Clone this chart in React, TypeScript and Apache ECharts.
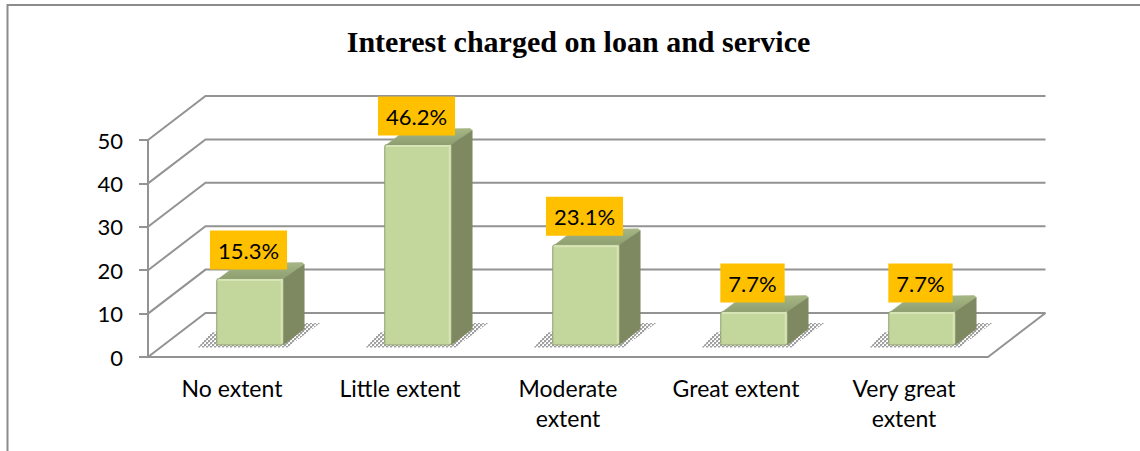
import React, { useEffect, useRef } from "react";
import * as echarts from "echarts";

const titleText = "Interest charged on loan and service";
const categories = ["No extent", "Little extent", "Moderate\nextent", "Great extent", "Very great\nextent"];
const values = [15.3, 46.2, 23.1, 7.7, 7.7];
const labels = ["15.3%", "46.2%", "23.1%", "7.7%", "7.7%"];
const ticks = [0, 10, 20, 30, 40, 50];

const FONT = "Lato, Carlito, 'Open Sans', sans-serif";
const WALL_DX = 57.5;
const WALL_DY = 44;
const GRID = "#939393";

function makeDither(): HTMLCanvasElement {
  const c = document.createElement("canvas");
  c.width = 4;
  c.height = 4;
  const ctx = c.getContext("2d")!;
  ctx.fillStyle = "#ffffff";
  ctx.fillRect(0, 0, 4, 4);
  ctx.fillStyle = "#a0a0a0";
  ctx.fillRect(0, 0, 2, 2);
  ctx.fillRect(2, 2, 2, 2);
  ctx.fillStyle = "#d8d8d8";
  ctx.fillRect(2, 0, 1, 1);
  ctx.fillRect(0, 2, 1, 1);
  return c;
}

function renderWall(params: any, api: any) {
  const v = api.value(1);
  const cs = params.coordSys;
  const y = api.coord([0, v])[1];
  const left = cs.x;
  const right = cs.x + cs.width;
  const children: any[] = [
    {
      type: "polyline",
      shape: { points: [[left, y], [left + WALL_DX, y - WALL_DY], [right + WALL_DX, y - WALL_DY]] },
      style: { stroke: GRID, lineWidth: 2, fill: "none" },
    },
  ];
  if (v === 0) {
    children.push({
      type: "line",
      shape: { x1: right, y1: y, x2: right + WALL_DX, y2: y - WALL_DY },
      style: { stroke: GRID, lineWidth: 2 },
    });
  }
  return { type: "group", children };
}

function renderBar(dither: HTMLCanvasElement) {
  return (params: any, api: any) => {
    const i = params.dataIndex;
    const v = api.value(1);
    const base = api.coord([i, 0]);
    const top = api.coord([i, v]);
    const w = 66.5;
    const L = base[0] + 18 - w / 2;
    const R = L + w;
    const B = base[1] - 12;
    const T = top[1] - 12;
    const dx = 21;
    const dy = 16;
    const cx = (L + R) / 2;
    return {
      type: "group",
      children: [
        {
          type: "polygon",
          shape: {
            points: [
              [L - 19, B + 2.5],
              [L - 6, B - 12],
              [L + 30, B - 22],
              [R + 37, B - 22],
              [R + 4, B + 2.5],
            ],
          },
          style: { fill: { image: dither, repeat: "repeat" } as any, stroke: "none" },
        },
        {
          type: "polygon",
          shape: { points: [[L + 2, T], [L + dx + 1, T - dy + 1], [R + dx - 2, T - dy], [R + dx, T - dy + 2], [R, T]] },
          style: {
            fill: new echarts.graphic.LinearGradient(0, 0, 0, 1, [
              { offset: 0, color: "#a6b785" },
              { offset: 1, color: "#8f9f70" },
            ]),
            stroke: "#a0b07e",
            lineWidth: 0.5,
            lineJoin: "round",
          },
        },
        {
          type: "polygon",
          shape: { points: [[R, T], [R + dx, T - dy + 2], [R + dx, B - dy], [R, B]] },
          style: { fill: "#7e8962", stroke: "#7e8962", lineWidth: 0.5, lineJoin: "round" },
        },
        {
          type: "rect",
          shape: { x: L, y: T, width: w, height: B - T, r: 2 },
          style: { fill: "#c3d69b", stroke: "#8f9d74", lineWidth: 1 },
        },
        {
          type: "polyline",
          shape: { points: [[L + 1.5, T + 1.5], [R - 1.5, T + 1.5], [R - 1.5, B - 1.5]] },
          style: { stroke: "#d7e5b4", lineWidth: 2, fill: "none" },
        },
        {
          type: "text",
          style: {
            text: labels[i],
            x: cx - 1.5,
            y: T - 9,
            align: "center",
            verticalAlign: "bottom",
            fill: "#000000",
            font: `22px ${FONT}`,
            backgroundColor: "#ffc000",
            padding: [9, 8, 8, 8],
          },
        },
      ],
    };
  };
}

export default function App() {
  const ref = useRef<HTMLDivElement>(null);
  useEffect(() => {
    const chart = echarts.init(ref.current!, undefined, { renderer: "svg" });
    const dither = makeDither();
    chart.setOption({
      animation: false,
      backgroundColor: "#ffffff",
      title: {
        text: titleText,
        left: 573.5,
        top: 21,
        textAlign: "center",
        textStyle: { fontFamily: "'Liberation Serif', serif", fontWeight: "bold", fontSize: 30, color: "#000000" },
      },
      grid: { left: 148, right: 152, top: 140, bottom: 94 },
      xAxis: {
        type: "category",
        data: categories,
        boundaryGap: true,
        axisLine: { lineStyle: { color: GRID, width: 2 } },
        axisTick: { length: 8, lineStyle: { color: GRID, width: 2 } },
        axisLabel: { color: "#000", fontFamily: FONT, fontSize: 23, lineHeight: 30, margin: 16, interval: 0 },
      },
      yAxis: {
        type: "value",
        min: 0,
        max: 50,
        interval: 10,
        splitLine: { show: false },
        axisLine: { show: true, lineStyle: { color: GRID, width: 2 } },
        axisTick: { show: true, length: 9, lineStyle: { color: GRID, width: 2 } },
        axisLabel: { color: "#000", fontFamily: FONT, fontSize: 22, margin: 25 },
      },
      graphic: [
        {
          type: "polyline",
          shape: { points: [[7.5, 451], [7.5, 5], [1140, 5]] },
          style: { stroke: "#8c8c8c", lineWidth: 2, fill: "none" },
        },
      ],
      series: [
        {
          type: "custom",
          name: "wall",
          clip: false,
          silent: true,
          z: 1,
          data: ticks.map((t) => [0, t]),
          renderItem: renderWall,
        },
        {
          type: "custom",
          name: "bars",
          clip: false,
          silent: true,
          z: 2,
          data: values.map((v, i) => [i, v]),
          renderItem: renderBar(dither),
        },
      ],
    });
    return () => chart.dispose();
  }, []);
  return <div ref={ref} style={{ position: "absolute", left: 0, top: 0, width: 1140, height: 451 }} />;
}
